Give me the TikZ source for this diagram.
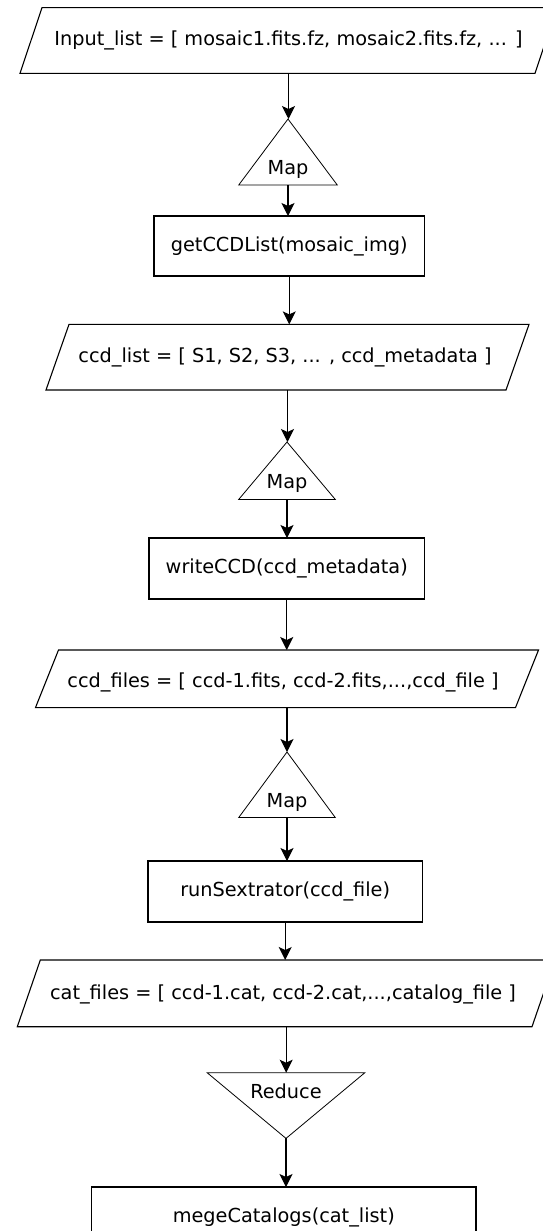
\documentclass[tikz,border=0pt]{standalone}
\usepackage{fontspec}
\setmainfont{DejaVu Sans}
\usetikzlibrary{arrows.meta}
\begin{document}
\begin{tikzpicture}[x=1pt, y=-1pt, line width=1.1pt,
  every node/.style={font=\fontsize{19.3}{23}\selectfont, inner sep=0pt, outer sep=0pt},
  area/.style args={#1x#2}{rectangle, minimum width=#1pt, minimum height=#2pt},
  procbox/.style args={#1x#2}{draw, rectangle, minimum width=#1pt, minimum height=#2pt},
  flow/.style={-{Stealth[length=13pt, width=13pt, inset=3pt]}}]
\useasboundingbox (0,0) rectangle (542,1231);

% data lists (parallelograms) and processing steps
\node[area=537x65.7]   (p1) at (288.5,40.5)   {Input\_list = [ mosaic1.fits.fz, mosaic2.fits.fz, ... ]};
\node[area=98.5x66]    (m1) at (288,152)      {};
\node                  (m1t) at (288,169)     {Map};
\node[procbox=270.5x60] (b1) at (289.25,246)  {getCCDList(mosaic\_img)};
\node[area=483x65.6]   (p2) at (287.5,357.2)  {};
\node                  (p2t) at (285,357)     {ccd\_list = [ S1, S2, S3, ... , ccd\_metadata ]};
\node[area=96.5x57.4]  (m2) at (287,470.7)    {};
\node                  (m2t) at (287,483)     {Map};
\node[procbox=275.5x61] (b2) at (286.75,568.5) {writeCCD(ccd\_metadata)};
\node[area=503x57.6]   (p3) at (287,678.8)    {};
\node                  (p3t) at (283,682)     {ccd\_files = [ ccd-1.fits, ccd-2.fits,...,ccd\_file ]};
\node[area=96.5x65.5]  (m3) at (287,784.75)   {};
\node                  (m3t) at (287,802)     {Map};
\node[procbox=274.4x61] (b3) at (285.2,891.5) {runSextrator(ccd\_file)};
\node[area=537.7x66.7] (p4) at (286.15,993.35) {};
\node                  (p4t) at (283,994)     {cat\_files = [ ccd-1.cat, ccd-2.cat,...,catalog\_file ]};
\node[area=157.7x65.7] (r1) at (286,1105.55)  {};
\node                  (r1t) at (286,1091)    {Reduce};
\node[procbox=384.4x60] (b4) at (283.8,1217)  {megeCatalogs(cat\_list)};

% outlines of the slanted list shapes
\draw ([xshift=22pt]p1.north west) -- (p1.north east) -- ([xshift=-22pt]p1.south east) -- (p1.south west) -- cycle;
\draw ([xshift=23pt]p2.north west) -- (p2.north east) -- ([xshift=-23pt]p2.south east) -- (p2.south west) -- cycle;
\draw ([xshift=23pt]p3.north west) -- (p3.north east) -- ([xshift=-23pt]p3.south east) -- (p3.south west) -- cycle;
\draw ([xshift=23pt]p4.north west) -- (p4.north east) -- ([xshift=-23pt]p4.south east) -- (p4.south west) -- cycle;

% map and reduce triangles
\draw[line width=0.8pt] (m1.north) -- (m1.south east) -- (m1.south west) -- cycle;
\draw[line width=0.8pt] (m2.north) -- (m2.south east) -- (m2.south west) -- cycle;
\draw[line width=0.8pt] (m3.north) -- (m3.south east) -- (m3.south west) -- cycle;
\draw[line width=0.8pt] (r1.north west) -- (r1.north east) -- (r1.south) -- cycle;

% connectors, each straight down from its source
\draw[flow] (p1.south) -- (p1.south |- m1.north);
\draw[flow] (m1.south) -- (m1.south |- b1.north);
\draw[flow] (b1.south) -- (b1.south |- p2.north);
\draw[flow] (p2.south) -- (p2.south |- m2.north);
\draw[flow] (m2.south) -- (m2.south |- b2.north);
\draw[flow] (b2.south) -- (b2.south |- p3.north);
\draw[flow] (p3.south) -- (p3.south |- m3.north);
\draw[flow] (m3.south) -- (m3.south |- b3.north);
\draw[flow] (b3.south) -- (b3.south |- p4.north);
\draw[flow] (p4.south) -- (p4.south |- r1.north);
\draw[flow] (r1.south) -- (r1.south |- b4.north);
\end{tikzpicture}
\end{document}
